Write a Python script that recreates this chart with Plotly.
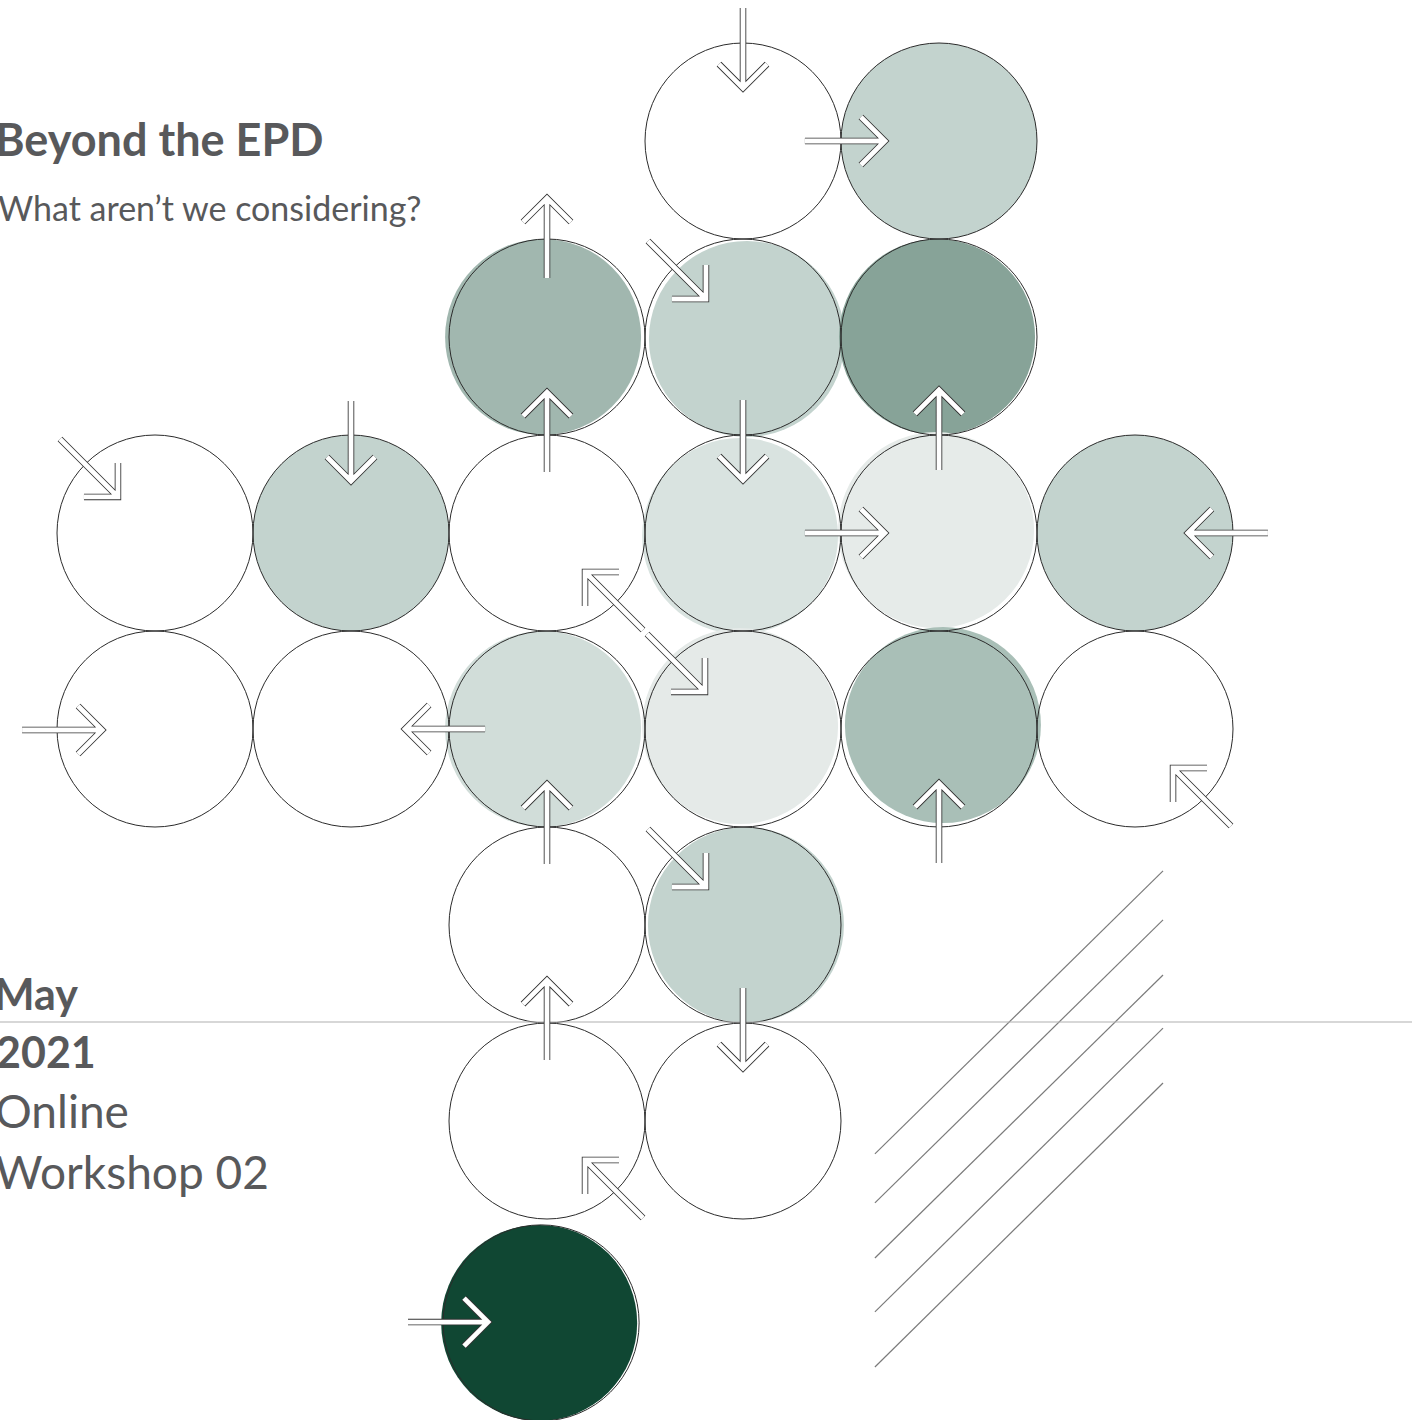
import plotly.graph_objects as go

# ---------------- data ----------------
# circles on a square grid: column index, row index, fill shade
circle_col = [3, 4, 2, 3, 4, 0, 1, 2, 3, 4, 5, 0, 1, 2, 3, 4, 5, 2, 3, 2, 3, 1.97]
circle_row = [0, 0, 1, 1, 1, 2, 2, 2, 2, 2, 2, 3, 3, 3, 3, 3, 3, 4, 4, 5, 5, 6.03]
circle_fill = ["#ffffff", "#c3d3ce", "#a1b7af", "#c3d3ce", "#87a398",
               "#ffffff", "#c3d3ce", "#ffffff", "#d9e3e0", "#e6ebe9", "#c3d3ce",
               "#ffffff", "#ffffff", "#d1ddd9", "#e5eae8", "#a9bfb7", "#ffffff",
               "#ffffff", "#c3d3ce", "#ffffff", "#ffffff", "#104733"]
# small misregistration of the fill relative to the outline (grid units)
fill_dx = [0, 0, -0.02, 0.02, -0.01, 0, 0, 0, -0.015, -0.015, 0,
           0, 0, -0.02, -0.015, 0.02, 0, 0, 0.015, 0, 0, -0.01]
fill_dy = [0, 0, 0, 0.01, 0, 0, 0, 0, 0.015, -0.015, 0,
           0, 0, 0, -0.015, -0.02, 0, 0, 0, 0, 0, 0]

# arrows: tip position (grid units) and direction
arrow_tip_x = [3, 3.724, 2, 2.811, 2, 3, 4, -0.189, 1, 3.724, 5.270, 2.194,
               2.806, -0.270, 1.276, 2, 4, 5.194, 2.811, 2, 3, 2.194, 1.699]
arrow_tip_y = [-0.270, 0, 0.291, 0.806, 1.281, 1.730, 1.270, 1.816, 1.735, 2, 2,
               2.199, 2.811, 3.005, 3, 3.281, 3.276, 3.199, 3.806, 4.281, 4.730,
               5.199, 6.026]
arrow_dir = ["S", "E", "N", "SE", "N", "S", "N", "SE", "S", "E", "W", "NW",
             "SE", "E", "W", "N", "N", "NW", "SE", "N", "S", "NW", "E"]

# hatch lines (bottom right)
hatch_x0 = [3.673] * 5
hatch_x1 = [5.143] * 5
hatch_y0 = [5.168, 5.418, 5.699, 5.974, 6.255]
hatch_y1 = [3.724, 3.974, 4.255, 4.526, 4.806]
rule_y = 4.495

title_lines = ["Beyond the EPD", "What aren\u2019t we considering?"]
date_lines = ["May", "2021", "Online", "Workshop 02"]

# ---------------- drawing ----------------
W, H = 1412, 1420
UNIT = 196.0
X0 = -155 / UNIT
Y0 = -141 / UNIT
R = 98 / UNIT

shapes = []
# fills
for c, r, f, dx, dy in zip(circle_col, circle_row, circle_fill, fill_dx, fill_dy):
    if f != "#ffffff":
        shapes.append(dict(type="circle", xref="x", yref="y",
                           x0=c + dx - R, x1=c + dx + R, y0=r + dy - R, y1=r + dy + R,
                           fillcolor=f, line=dict(width=0), layer="above"))
# outlines
for c, r in zip(circle_col, circle_row):
    shapes.append(dict(type="circle", xref="x", yref="y",
                       x0=c - R, x1=c + R, y0=r - R, y1=r + R,
                       fillcolor="rgba(0,0,0,0)", line=dict(color="#2b2b2b", width=1),
                       layer="above"))

# hatch lines and rule
for a, b, c, d in zip(hatch_x0, hatch_y0, hatch_x1, hatch_y1):
    shapes.append(dict(type="line", xref="x", yref="y", x0=a, y0=b, x1=c, y1=d,
                       line=dict(color="#7a7a7a", width=1.2), layer="above"))
shapes.append(dict(type="line", xref="paper", yref="y", x0=0, x1=1, y0=rule_y, y1=rule_y,
                   line=dict(color="#b0b0b0", width=1.2), layer="above"))

L = 80 / UNIT       # straight arrow length
D = 58 / UNIT       # diagonal arrow component
HA = 24 / UNIT      # straight head arm component
HD = 34 / UNIT      # diagonal head arm length

vec = {"N": (0, -1), "S": (0, 1), "E": (1, 0), "W": (-1, 0),
       "SE": (1, 1), "NW": (-1, -1)}


def arrow_path(tx, ty, d):
    ux, uy = vec[d]
    if d in ("SE", "NW"):
        sx, sy = tx - ux * D, ty - uy * D
        a1 = (tx - ux * HD, ty)
        a2 = (tx, ty - uy * HD)
    else:
        sx, sy = tx - ux * L, ty - uy * L
        px, py = -uy, ux
        a1 = (tx - ux * HA + px * HA, ty - uy * HA + py * HA)
        a2 = (tx - ux * HA - px * HA, ty - uy * HA - py * HA)
    return (f"M{sx},{sy} L{tx},{ty} M{a1[0]},{a1[1]} L{tx},{ty} L{a2[0]},{a2[1]}")


for tx, ty, d in zip(arrow_tip_x, arrow_tip_y, arrow_dir):
    p = arrow_path(tx, ty, d)
    shapes.append(dict(type="path", xref="x", yref="y", path=p,
                       line=dict(color="#333333", width=6.5), layer="above"))
    shapes.append(dict(type="path", xref="x", yref="y", path=p,
                       line=dict(color="#ffffff", width=4.8), layer="above"))

TXT = "#58595b"
FONT = "Lato"


def ann(text, px, py, size, bold=False):
    return dict(text=f"<b>{text}</b>" if bold else text,
                xref="paper", yref="paper", x=px / W, y=1 - py / H,
                xanchor="left", yanchor="middle", showarrow=False,
                font=dict(family=FONT, size=size, color=TXT))


annotations = [
    ann(title_lines[0], -7, 139, 45, True),
    ann(title_lines[1], -4, 207, 34),
    ann(date_lines[0], -8, 994, 43, True),
    ann(date_lines[1], -6, 1051, 43, True),
    ann(date_lines[2], -7, 1110, 46),
    ann(date_lines[3], -7, 1171, 46),
]

fig = go.Figure()
fig.add_trace(go.Scatter(x=[X0], y=[Y0], mode="markers", marker=dict(opacity=0),
                         hoverinfo="skip", showlegend=False))
fig.update_layout(
    width=W, height=H, margin=dict(l=0, r=0, t=0, b=0),
    paper_bgcolor="white", plot_bgcolor="white",
    xaxis=dict(range=[X0, X0 + W / UNIT], visible=False, fixedrange=True),
    yaxis=dict(range=[Y0 + H / UNIT, Y0], visible=False, fixedrange=True),
    shapes=shapes, annotations=annotations, showlegend=False,
)
fig.write_html("out.html", config={"displayModeBar": False},
               post_script="document.body.style.margin='0';document.body.style.overflow='hidden';")
